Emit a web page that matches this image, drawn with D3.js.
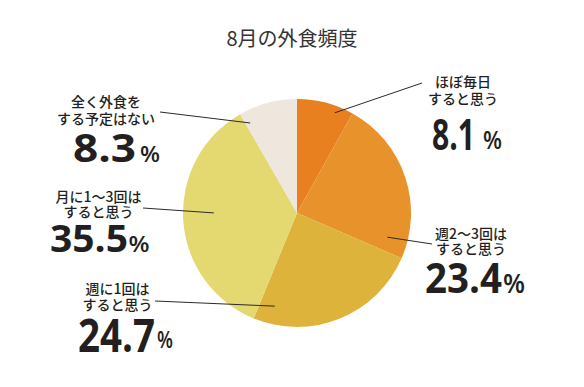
<!DOCTYPE html>
<html lang="ja">
  <head>
    <meta charset="utf-8">
    <style type="text/css">
    body { margin: 0; background: #fff; }
    svg { display: block; }
    </style>
  </head>
  <body>
    <script type="text/javascript" src="https://cdn.jsdelivr.net/npm/d3@7/dist/d3.min.js"></script>
    <script>
      // データ（時計回り、12時の位置から）
      var title = "8月の外食頻度";
      var labelLine1 = ["ほぼ毎日", "週2～3回は", "週に1回は", "月に1～3回は", "全く外食を"];
      var labelLine2 = ["すると思う", "すると思う", "すると思う", "すると思う", "する予定はない"];
      var values = [8.1, 23.4, 24.7, 35.5, 8.3];
      var valueLabels = ["8.1", "23.4", "24.7", "35.5", "8.3"];

      var colors = ["#e8801f", "#e8922b", "#ddb33c", "#e4d870", "#efe6de"];

      // ラベルの配置（レイアウト用）
      // lead: 扇形内の線の始点 [角度の割合, 半径の割合], end: 線の終点
      // cx/y1/y2: 2行のテキスト, nx/ny/ns/nl: 数値, px/py/ps/pl: %
      var layout = [
        { lead: [0.71, 0.94], end: [422, 83],  cx: 463, y1: 86.5, y2: 103.5,
          nx: 432, ny: 150, ns: 43, nl: 43, px: 483, py: 149, ps: 25, pl: 19 },
        { lead: [0.90, 0.82], end: [432, 244], cx: 471, y1: 238.5, y2: 253.5,
          nx: 425, ny: 293, ns: 42, nl: 77, px: 503, py: 293, ps: 27, pl: 22 },
        { lead: [0.90, 0.84], end: [155, 301], cx: 117.5, y1: 293.5, y2: 310,
          nx: 78, ny: 351.5, ns: 46, nl: 77, px: 157, py: 348, ps: 24, pl: 16 },
        { lead: [0.53, 0.73], end: [143, 208], cx: 98.5, y1: 201.5, y2: 217,
          nx: 50, ny: 251.5, ns: 37, nl: 78, px: 128.5, py: 251.5, ps: 22, pl: 21 },
        { lead: [0.08, 0.89], end: [160, 112], cx: 106, y1: 106.5, y2: 123.5,
          nx: 73, ny: 161.5, ns: 40, nl: 63, px: 140, py: 161.5, ps: 21, pl: 20 }
      ];

      var w = 584;
      var h = 387;
      var cx = 297;
      var cy = 213;
      var r = 114;

      var svg = d3.select("body")
        .append("svg")
        .attr("width", w)
        .attr("height", h);

      // タイトル
      svg.append("text")
        .attr("x", 292)
        .attr("y", 46)
        .attr("text-anchor", "middle")
        .attr("font-family", "'Noto Sans CJK JP', sans-serif")
        .attr("font-size", "20px")
        .attr("fill", "#333")
        .text(title);

      var pie = d3.pie().sort(null).value(function(d) { return d; });
      var arcs = pie(values);
      var arc = d3.arc().innerRadius(0).outerRadius(r);

      var g = svg.append("g")
        .attr("transform", "translate(" + cx + "," + cy + ")");

      g.selectAll("path")
        .data(arcs)
        .enter()
        .append("path")
        .attr("d", arc)
        .attr("fill", function(d, i) { return colors[i]; });

      // 引き出し線
      svg.selectAll("line.lead")
        .data(arcs)
        .enter()
        .append("line")
        .attr("class", "lead")
        .each(function(d, i) {
          var L = layout[i];
          var a = d.startAngle + (d.endAngle - d.startAngle) * L.lead[0];
          var rr = r * L.lead[1];
          d3.select(this)
            .attr("x1", cx + Math.sin(a) * rr)
            .attr("y1", cy - Math.cos(a) * rr)
            .attr("x2", L.end[0])
            .attr("y2", L.end[1]);
        })
        .attr("stroke", "#2a2a2a")
        .attr("stroke-width", 1);

      var jp = "'Noto Sans CJK JP', sans-serif";
      var num = "'Open Sans', 'Liberation Sans', sans-serif";

      // ラベルはひとつの text に tspan でまとめる
      var labels = svg.selectAll("text.label")
        .data(values)
        .enter()
        .append("text")
        .attr("class", "label")
        .attr("fill", "#231f20");

      labels.append("tspan")
        .attr("x", function(d, i) { return layout[i].cx; })
        .attr("y", function(d, i) { return layout[i].y1; })
        .attr("text-anchor", "middle")
        .attr("font-family", jp)
        .attr("font-size", "14px")
        .attr("font-weight", 500)
        .text(function(d, i) { return labelLine1[i]; });

      labels.append("tspan")
        .attr("x", function(d, i) { return layout[i].cx; })
        .attr("y", function(d, i) { return layout[i].y2; })
        .attr("text-anchor", "middle")
        .attr("font-family", jp)
        .attr("font-size", "14px")
        .attr("font-weight", 500)
        .text(function(d, i) { return labelLine2[i]; });

      labels.append("tspan")
        .attr("x", function(d, i) { return layout[i].nx; })
        .attr("y", function(d, i) { return layout[i].ny; })
        .attr("text-anchor", "start")
        .attr("font-family", num)
        .attr("font-weight", 700)
        .attr("font-size", function(d, i) { return layout[i].ns + "px"; })
        .attr("textLength", function(d, i) { return layout[i].nl; })
        .attr("lengthAdjust", "spacingAndGlyphs")
        .text(function(d, i) { return valueLabels[i]; });

      labels.append("tspan")
        .attr("x", function(d, i) { return layout[i].px; })
        .attr("y", function(d, i) { return layout[i].py; })
        .attr("text-anchor", "start")
        .attr("font-family", num)
        .attr("font-weight", 600)
        .attr("font-size", function(d, i) { return layout[i].ps + "px"; })
        .attr("textLength", function(d, i) { return layout[i].pl; })
        .attr("lengthAdjust", "spacingAndGlyphs")
        .text("%");
    </script>
  </body>
</html>
